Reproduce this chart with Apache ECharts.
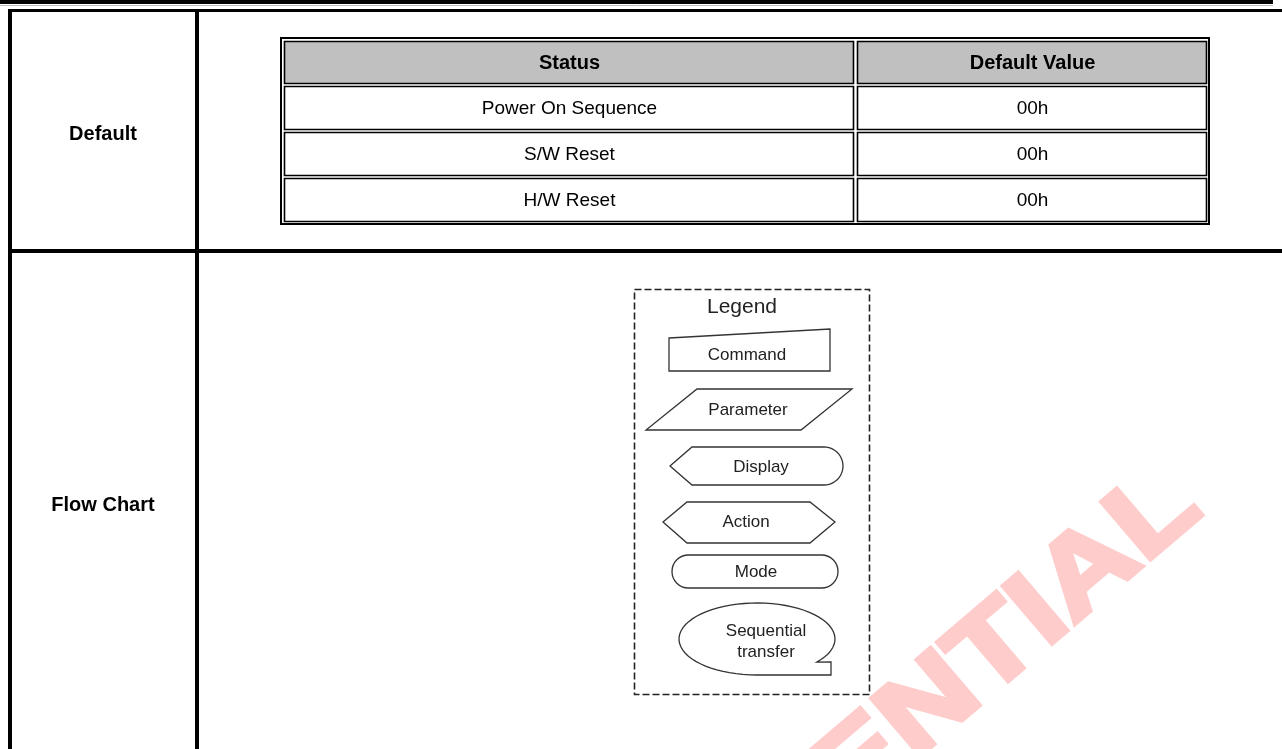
<!DOCTYPE html>
<html>
<head>
<meta charset="utf-8">
<style>
html,body{margin:0;padding:0;background:#fff;}
#chart{width:1282px;height:749px;}
</style>
<script src="https://cdn.jsdelivr.net/npm/echarts@6/dist/echarts.min.js"></script>
</head>
<body>
<div id="chart"></div>
<script>
// ---- content ----
const rowLabels = ['Default', 'Flow Chart'];
const tableHeaders = ['Status', 'Default Value'];
const statusNames = ['Power On Sequence', 'S/W Reset', 'H/W Reset'];
const defaultValues = ['00h', '00h', '00h'];
const legendTitle = 'Legend';
const legendItems = ['Command', 'Parameter', 'Display', 'Action', 'Mode', 'Sequential\ntransfer'];
const watermarkText = 'CONFIDENTIAL';

// ---- layout (styling) ----
const FONT = '"Liberation Sans", Arial, sans-serif';
const els = [];

// watermark (behind everything)
els.push({
  type: 'text', x: 1185, y: 490, rotation: 40.5 * Math.PI / 180, scaleX: 1.19, scaleY: 1, z: 0,
  style: { text: watermarkText, fill: '#ffcccc', stroke: '#ffcccc', lineWidth: 5, font: 'bold 109px ' + FONT,
    textAlign: 'right', textVerticalAlign: 'middle' }
});

// page frame
els.push({ type: 'rect', shape: { x: 0, y: 0, width: 1273, height: 4 }, style: { fill: '#000' }, z: 5 });
els.push({ type: 'line', shape: { x1: 0, y1: 5.5, x2: 1273, y2: 5.5 }, style: { stroke: '#bbb', lineWidth: 1 }, z: 5 });
els.push({ type: 'rect', shape: { x: 8, y: 9, width: 1274, height: 3 }, style: { fill: '#000' }, z: 5 });
els.push({ type: 'rect', shape: { x: 8, y: 9, width: 4, height: 740 }, style: { fill: '#000' }, z: 5 });
els.push({ type: 'rect', shape: { x: 195, y: 9, width: 4, height: 740 }, style: { fill: '#000' }, z: 5 });
els.push({ type: 'rect', shape: { x: 8, y: 249, width: 1274, height: 4 }, style: { fill: '#000' }, z: 5 });

// row labels
const labelY = [134, 505];
rowLabels.forEach((t, i) => {
  els.push({ type: 'text', x: 103, y: labelY[i], z: 6,
    style: { text: t, fill: '#000', font: 'bold 20px ' + FONT, textAlign: 'center', textVerticalAlign: 'middle' } });
});

// inner table
els.push({ type: 'rect', shape: { x: 281, y: 38, width: 928, height: 186 },
  style: { fill: 'none', stroke: '#000', lineWidth: 2 }, z: 5 });
const colX = [[284, 853], [857, 1206]];
const rowY = [[41, 83], [86, 129], [132, 175], [178, 221]];
const cellText = [tableHeaders].concat(statusNames.map((s, i) => [s, defaultValues[i]]));
rowY.forEach((ry, r) => {
  colX.forEach((cx, c) => {
    els.push({ type: 'rect', shape: { x: cx[0] + 0.5, y: ry[0] + 0.5, width: cx[1] - cx[0], height: ry[1] - ry[0] },
      style: { fill: r === 0 ? '#c0c0c0' : '#fff', stroke: '#000', lineWidth: 1.6 }, z: 5 });
    els.push({ type: 'text', x: (cx[0] + cx[1]) / 2 + 1, y: (ry[0] + ry[1]) / 2 + 1.5, z: 6,
      style: { text: cellText[r][c], fill: '#000', font: (r === 0 ? 'bold 20px ' : '19px ') + FONT,
        textAlign: 'center', textVerticalAlign: 'middle' } });
  });
});

// legend box
const SK = '#333';
els.push({ type: 'rect', shape: { x: 634.5, y: 289.5, width: 235, height: 405 },
  style: { fill: 'none', stroke: '#222', lineWidth: 1.6, lineDash: [7, 3] }, z: 5 });
els.push({ type: 'text', x: 742, y: 307, z: 6,
  style: { text: legendTitle, fill: '#222', font: '21px ' + FONT, textAlign: 'center', textVerticalAlign: 'middle' } });

function poly(pts) {
  els.push({ type: 'polygon', shape: { points: pts }, style: { fill: '#fff', stroke: SK, lineWidth: 1.3 }, z: 5 });
}
// Command (manual input)
poly([[669, 338], [830, 329], [830, 371], [669, 371]]);
// Parameter (parallelogram)
poly([[697, 389], [852, 389], [801, 430], [646, 430]]);
// Display
(function(){
  const pts = [[670, 466], [692, 447], [824, 447]];
  for (let k = 1; k < 24; k++) { const t = -Math.PI / 2 + Math.PI * k / 24; pts.push([824 + 19 * Math.cos(t), 466 + 19 * Math.sin(t)]); }
  pts.push([824, 485], [692, 485]);
  poly(pts);
})();
// Action (hexagon)
poly([[663, 522], [687, 502], [810, 502], [835, 522], [810, 543], [687, 543]]);
// Mode (terminator)
els.push({ type: 'rect', shape: { x: 672, y: 555, width: 166, height: 33, r: 16.5 },
  style: { fill: '#fff', stroke: SK, lineWidth: 1.3 }, z: 5 });
// Sequential transfer (callout ellipse)
(function(){
  const cx = 757, cy = 639, rx = 78, ry = 36;
  const pts = [];
  const t0 = Math.PI / 2, t1 = 2 * Math.PI + 40 * Math.PI / 180;
  for (let k = 0; k <= 60; k++) { const t = t0 + (t1 - t0) * k / 60; pts.push([cx + rx * Math.cos(t), cy + ry * Math.sin(t)]); }
  pts.push([831, 662], [831, 675]);
  poly(pts);
})();

const itemPos = [[747, 355], [748, 410], [761, 467], [746, 522], [756, 572], [766, 642]];
legendItems.forEach((t, i) => {
  els.push({ type: 'text', x: itemPos[i][0], y: itemPos[i][1], z: 6,
    style: { text: t, fill: '#222', font: '17px ' + FONT, lineHeight: 21, textAlign: 'center', textVerticalAlign: 'middle' } });
});

const chart = echarts.init(document.getElementById('chart'), null, { renderer: 'canvas' });
chart.setOption({ animation: false, backgroundColor: '#fff', graphic: { elements: els } });
</script>
</body>
</html>
